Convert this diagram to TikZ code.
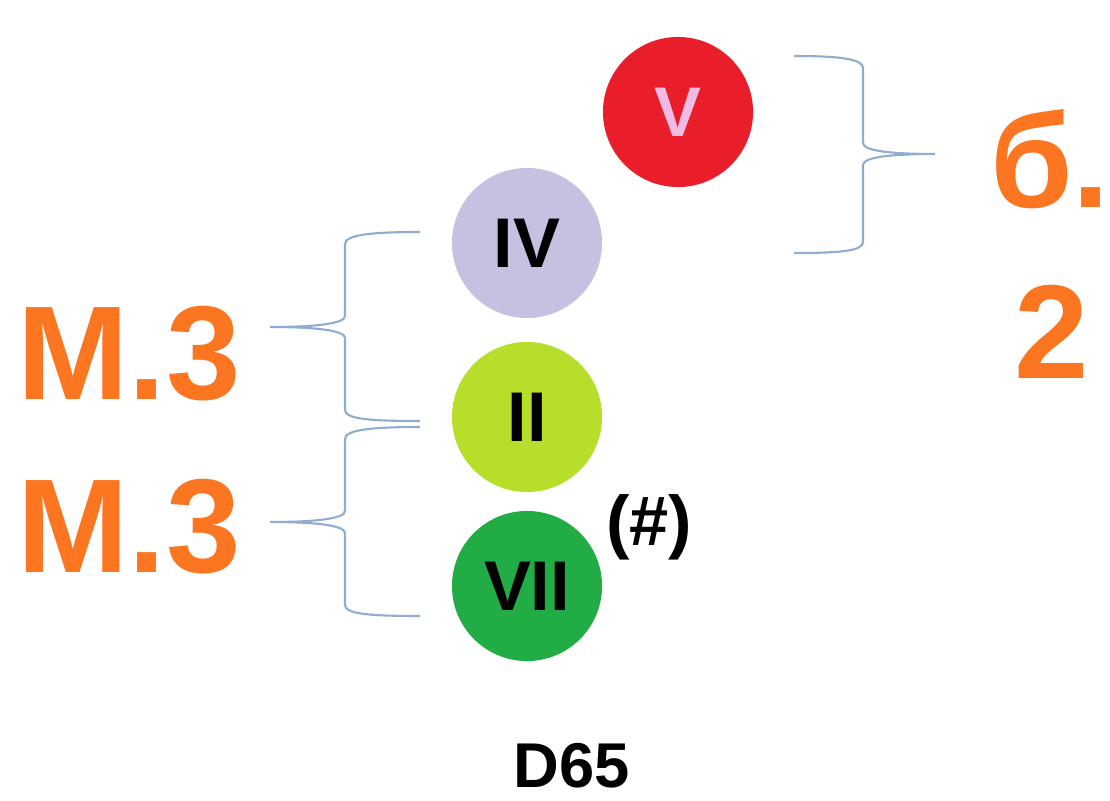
\documentclass[tikz,border=0pt]{standalone}
\usepackage{fontspec}
\setmainfont{Liberation Sans}
\usepackage{xcolor}
\definecolor{labelorange}{RGB}{252,118,33}
\definecolor{bracegray}{RGB}{142,173,207}
\definecolor{fifthred}{RGB}{234,30,42}
\definecolor{fifthtext}{RGB}{238,188,228}
\definecolor{fourthlilac}{RGB}{196,194,224}
\definecolor{secondlime}{RGB}{182,222,42}
\definecolor{seventhgreen}{RGB}{34,172,70}

\begin{document}
\begin{tikzpicture}[x=0.01cm,y=-0.01cm,
	deg/.style={circle,minimum size=1.5cm,inner sep=0pt,font=\bfseries\fontsize{20}{24}\selectfont},
	brak/.style={draw=bracegray,line width=0.6pt},
	lbl/.style={text=labelorange,anchor=base,font=\bfseries\fontsize{38}{42}\selectfont}]
		\useasboundingbox(0,0)rectangle(1110,800);
		\node[deg,fill=fifthred,text=fifthtext](v)at(678,112){V};
		\node[deg,fill=fourthlilac](iv)at(527,243){IV};
		\node[deg,fill=secondlime](ii)at(527,417){II};
		\node[deg,fill=seventhgreen](vii)at(527,586){VII};
		\node[font=\bfseries\fontsize{20}{24}\selectfont](sharp)at(649,527){(\#)};
		\node[anchor=base,font=\bfseries\fontsize{18}{22}\selectfont](d65)at(572,787){D65};
		\node[lbl](m1)at(129,399){М.3};
		\node[lbl](m2)at(129,572){М.3};
		\node[lbl](b1)at(1050,207){б.};
		\node[lbl](two)at(1052,378){2};
		\draw[brak](420,232)..controls(370,232)and(345,235)..(345,244)--(345,316)
			..controls(345,323)and(320,327)..(270,327)
			..controls(320,327)and(345,331)..(345,338)--(345,410)
			..controls(345,419)and(370,421)..(420,421);
		\draw[brak](420,427)..controls(370,427)and(345,430)..(345,439)--(345,511)
			..controls(345,518)and(320,522)..(270,522)
			..controls(320,522)and(345,526)..(345,533)--(345,605)
			..controls(345,614)and(370,616)..(420,616);
		\draw[brak](794,56)..controls(840,56)and(863,59)..(863,68)--(863,143)
			..controls(863,150)and(885,154)..(935,154)
			..controls(885,154)and(863,158)..(863,165)--(863,242)
			..controls(863,251)and(840,253)..(794,253);
\end{tikzpicture}
\end{document}
